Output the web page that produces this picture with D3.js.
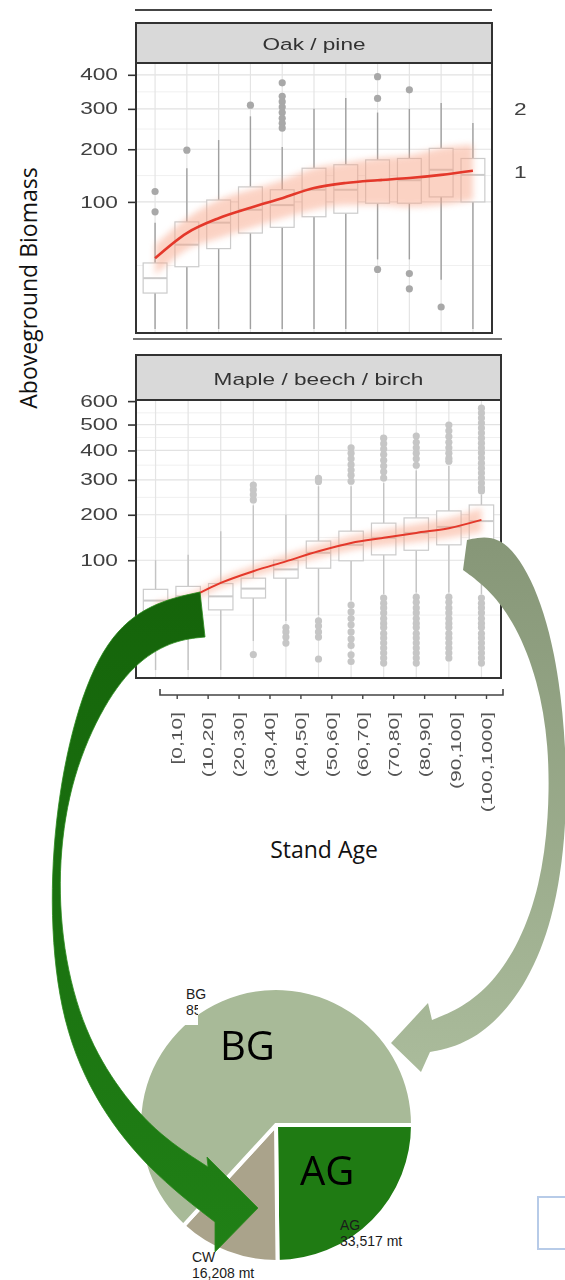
<!DOCTYPE html>
<html>
<head>
<meta charset="utf-8">
<script src="https://cdn.jsdelivr.net/npm/d3@7"></script>
<style>
  html, body { margin: 0; padding: 0; background: #fff; }
  svg { display: block; }
</style>
</head>
<body>
<div id="chart"></div>
<script>
// ---- data ----
const ageBins = ["[0,10]", "(10,20]", "(20,30]", "(30,40]", "(40,50]", "(50,60]",
  "(60,70]", "(70,80]", "(80,90]", "(90,100]", "(100,1000]"];

// Oak / pine panel (box stats, outliers, fitted curve + band)
const oakLo  = [0, 0, 0, 0, 0, 0, 0, 30, 30, 15, 0];
const oakQ1  = [8, 24, 40, 57, 64, 78, 83, 98, 98, 108, 100];
const oakMed = [16, 44, 70, 88, 95, 120, 120, 137, 137, 157, 147];
const oakQ3  = [27, 71, 103, 125, 120, 160, 167, 177, 180, 202, 180];
const oakHi  = [70, 160, 221, 280, 205, 300, 330, 290, 300, 316, 263];
const oakOut = [[117, 85], [198], [], [310], [375, 335, 320, 305, 290, 275, 262, 250],
  [], [], [394, 329, 22], [354, 19, 10], [3], []];
const oakFit   = [31, 57, 76, 91, 106, 123, 132, 137, 141, 147, 155];
const oakFitLo = [18, 39, 51, 63, 76, 88, 95, 95, 92, 95, 103];
const oakFitHi = [44, 76, 103, 120, 137, 160, 171, 181, 187, 203, 210];
const oakTicks = [100, 200, 300, 400];

// Maple / beech / birch panel
const mapLo  = [0, 0, 0, 7, 20, 25, 40, 48, 50, 50, 48];
const mapQ1  = [25, 30, 30, 43, 70, 86, 99, 110, 119, 130, 138];
const mapMed = [40, 45, 45, 55, 84, 114, 130, 145, 156, 170, 184];
const mapQ3  = [54, 58, 62, 70, 100, 138, 160, 179, 192, 210, 226];
const mapHi  = [100, 110, 160, 225, 200, 280, 280, 290, 330, 345, 255];
const mapOut = [
  [], [], [],
  [284, 270, 255, 240, 2],
  [15, 12, 9, 6],
  [305, 295, 20, 16, 12, 9, 1],
  [410, 390, 370, 350, 332, 315, 296, 35, 28, 22, 17, 12, 8, 5, 1.9, 0.6],
  [446, 425, 405, 385, 365, 345, 326, 306, 43, 37, 32, 27, 22, 18, 15, 11, 8.5, 6, 4, 2.4, 1.2, 0.4],
  [454, 430, 410, 390, 370, 348, 44, 38, 32, 27, 22, 18, 15, 11, 8.5, 6, 4, 2.4, 1.2, 0.4],
  [498, 475, 452, 430, 410, 390, 372, 362, 44, 38, 32, 27, 22, 18, 15, 11, 8.5, 6, 4, 2.4, 1.2],
  [569, 548, 527, 506, 486, 466, 446, 427, 409, 391, 373, 355, 338, 322, 306, 290, 275, 266,
   43, 37, 32, 27, 22, 18, 15, 11, 8.5, 6, 4, 2.4, 1.2, 0.4]
];
const mapFit   = [34, 43, 63, 81, 98, 117, 134, 145, 156, 167, 187];
const mapFitLo = [30, 38, 56, 72, 88, 104, 119, 128, 136, 145, 158];
const mapFitHi = [38, 48, 70, 90, 110, 130, 149, 163, 177, 192, 218];
const mapTicks = [100, 200, 300, 400, 500, 600];

// carbon pools pie
const poolNames = ["AG", "CW", "BG"];
const poolMt = [33517, 16208, 85310];

// ---- setup ----
const W = 565, H = 1280;
const chartFont = "'Liberation Sans', Arial, sans-serif";
const slideFont = "'Open Sans', 'Noto Sans', sans-serif";

const svg = d3.select("#chart").append("svg")
  .attr("width", W).attr("height", H)
  .style("font-family", chartFont);

const defs = svg.append("defs");
defs.append("filter").attr("id", "ribbonBlur")
  .attr("x", "-10%").attr("y", "-60%").attr("width", "120%").attr("height", "220%")
  .append("feGaussianBlur").attr("stdDeviation", 3);
defs.append("filter").attr("id", "soft")
  .append("feGaussianBlur").attr("stdDeviation", 0.5);

const chart = svg.append("g").attr("filter", "url(#soft)");

function drawPanel(g, p, d) {
  const x = d3.scalePoint().domain(ageBins).range([p.left, p.right]).padding(0.6);
  const y = d3.scaleSqrt().domain([0, p.yMax]).range([p.yZero, p.plotTop]);
  const bw = x.step() * 0.75;

  g.append("rect")
    .attr("x", p.left).attr("y", p.plotTop)
    .attr("width", p.right - p.left).attr("height", p.plotBottom - p.plotTop)
    .attr("fill", "#fff");

  // minor grid: midpoints in sqrt space
  const minors = d.ticks.map((t, i) => {
    const a = Math.sqrt(i === 0 ? 0 : d.ticks[i - 1]), b = Math.sqrt(t);
    return Math.pow((a + b) / 2, 2);
  });
  g.selectAll(".minor").data(minors).enter().append("line")
    .attr("x1", p.left).attr("x2", p.right)
    .attr("y1", v => y(v)).attr("y2", v => y(v))
    .attr("stroke", "#f0f0f0").attr("stroke-width", 1);
  g.selectAll(".major").data(d.ticks.filter(t => y(t) > p.plotTop + 2)).enter().append("line")
    .attr("x1", p.left).attr("x2", p.right)
    .attr("y1", v => y(v)).attr("y2", v => y(v))
    .attr("stroke", "#e2e2e2").attr("stroke-width", 1.2);
  g.selectAll(".vgrid").data(ageBins).enter().append("line")
    .attr("x1", b => x(b)).attr("x2", b => x(b))
    .attr("y1", p.plotTop).attr("y2", p.plotBottom)
    .attr("stroke", "#e4e4e4").attr("stroke-width", 1.2);

  const rows = ageBins.map((b, i) => ({
    bin: b, lo: d.lo[i], q1: d.q1[i], med: d.med[i], q3: d.q3[i], hi: d.hi[i], out: d.out[i]
  }));

  // whiskers
  g.selectAll(".wLo").data(rows).enter().append("line")
    .attr("x1", r => x(r.bin)).attr("x2", r => x(r.bin))
    .attr("y1", r => y(r.lo)).attr("y2", r => y(r.q1))
    .attr("stroke", p.whisker).attr("stroke-width", 1.4);
  g.selectAll(".wHi").data(rows).enter().append("line")
    .attr("x1", r => x(r.bin)).attr("x2", r => x(r.bin))
    .attr("y1", r => y(r.hi)).attr("y2", r => y(r.q3))
    .attr("stroke", p.whisker).attr("stroke-width", 1.4);

  // boxes
  g.selectAll(".box").data(rows).enter().append("rect")
    .attr("x", r => x(r.bin) - bw / 2).attr("width", bw)
    .attr("y", r => y(r.q3)).attr("height", r => y(r.q1) - y(r.q3))
    .attr("fill", "#fff").attr("stroke", "#cbcbcb").attr("stroke-width", 1.2);
  g.selectAll(".med").data(rows).enter().append("line")
    .attr("x1", r => x(r.bin) - bw / 2).attr("x2", r => x(r.bin) + bw / 2)
    .attr("y1", r => y(r.med)).attr("y2", r => y(r.med))
    .attr("stroke", "#cbcbcb").attr("stroke-width", 2);

  // outliers
  const pts = rows.flatMap(r => r.out.map(v => ({ bin: r.bin, v })));
  g.selectAll(".out").data(pts).enter().append("circle")
    .attr("cx", o => x(o.bin)).attr("cy", o => y(o.v))
    .attr("r", 3.6).attr("fill", p.outFill);

  // fitted curve with confidence band
  const fitRows = ageBins.map((b, i) => ({ bin: b, f: d.fit[i], lo: d.fitLo[i], hi: d.fitHi[i] }));
  g.append("path").datum(fitRows)
    .attr("d", d3.area().x(r => x(r.bin)).y0(r => y(r.lo)).y1(r => y(r.hi)).curve(d3.curveMonotoneX))
    .attr("fill", "#f8a689").attr("opacity", p.bandOpacity)
    .attr("filter", "url(#ribbonBlur)");
  g.append("path").datum(fitRows)
    .attr("d", d3.line().x(r => x(r.bin)).y(r => y(r.f)).curve(d3.curveMonotoneX))
    .attr("fill", "none").attr("stroke", "#e4372b").attr("stroke-width", p.lineW);

  // strip + frame
  g.append("rect")
    .attr("x", p.left).attr("y", p.stripTop)
    .attr("width", p.right - p.left).attr("height", p.plotTop - p.stripTop)
    .attr("fill", "#d9d9d9");
  g.append("text")
    .attr("transform", `translate(${(p.left + p.right) / 2},${(p.stripTop + p.plotTop) / 2 + 1}) scale(1.33,1)`)
    .attr("text-anchor", "middle").attr("dy", "0.36em")
    .attr("font-size", 17).attr("fill", "#333")
    .text(p.title);
  g.append("line")
    .attr("x1", p.left).attr("x2", p.right).attr("y1", p.plotTop).attr("y2", p.plotTop)
    .attr("stroke", "#333").attr("stroke-width", 2);
  g.append("rect")
    .attr("x", p.left).attr("y", p.stripTop)
    .attr("width", p.right - p.left).attr("height", p.plotBottom - p.stripTop)
    .attr("fill", "none").attr("stroke", "#333").attr("stroke-width", 2);

  // y axis
  const ax = g.append("g").attr("transform", `translate(${p.left},0)`)
    .call(d3.axisLeft(y).tickValues(d.ticks).tickSize(8).tickFormat(d3.format("d")));
  ax.select(".domain").remove();
  ax.selectAll(".tick line").attr("stroke", "#333").attr("stroke-width", 1.6);
  ax.selectAll(".tick text")
    .attr("x", 0).attr("transform", "translate(-18,0) scale(1.42,1)")
    .attr("font-size", 16).attr("font-family", chartFont).attr("fill", "#3f3f3f");

  return { x, y };
}

// line above the first panel (edge of a cropped panel)
chart.append("line").attr("x1", 135).attr("x2", 492).attr("y1", 10).attr("y2", 10)
  .attr("stroke", "#444").attr("stroke-width", 2);

drawPanel(chart.append("g"),
  { title: "Oak / pine", left: 136, right: 492, stripTop: 23, plotTop: 63, plotBottom: 333,
    yZero: 329, yMax: 438, lineW: 2.6, outFill: "#a8a8a8", whisker: "#a0a0a0", bandOpacity: 0.5 },
  { lo: oakLo, q1: oakQ1, med: oakMed, q3: oakQ3, hi: oakHi, out: oakOut,
    fit: oakFit, fitLo: oakFitLo, fitHi: oakFitHi, ticks: oakTicks });

// axis line under the first panel
chart.append("line").attr("x1", 133).attr("x2", 502).attr("y1", 339).attr("y2", 339)
  .attr("stroke", "#444").attr("stroke-width", 1.6);

drawPanel(chart.append("g"),
  { title: "Maple / beech / birch", left: 136, right: 501, stripTop: 355, plotTop: 400, plotBottom: 678,
    yZero: 670, yMax: 605, lineW: 2, outFill: "#c6c6c6", whisker: "#c4c4c4", bandOpacity: 0.5 },
  { lo: mapLo, q1: mapQ1, med: mapMed, q3: mapQ3, hi: mapHi, out: mapOut,
    fit: mapFit, fitLo: mapFitLo, fitHi: mapFitHi, ticks: mapTicks });

// clipped tick labels of a neighbouring panel at the right edge
const ghostClip = defs.append("clipPath").attr("id", "ghostClip");
ghostClip.append("rect").attr("x", 505).attr("y", 0).attr("width", 21).attr("height", 340);
const ghost = chart.append("g").attr("clip-path", "url(#ghostClip)");
ghost.selectAll("text").data(["200", "100"]).enter().append("text")
  .attr("transform", (t, i) => `translate(514,${[115, 178][i]}) scale(1.42,1)`)
  .attr("font-size", 16).attr("fill", "#3f3f3f").text(t => t);

// stand age axis (shifted under the lower panel)
const xAge = d3.scalePoint().domain(ageBins).range([176.7, 486]);
const xAxisY = 695;
const xa = chart.append("g").attr("transform", `translate(0,${xAxisY})`)
  .call(d3.axisBottom(xAge).tickSize(4).tickSizeOuter(0));
xa.select(".domain").remove();
xa.selectAll(".tick line").attr("stroke", "#444").attr("stroke-width", 1.4);
xa.selectAll(".tick text")
  .attr("x", null).attr("y", null).attr("dy", "0.35em")
  .attr("transform", "translate(0,17) rotate(-90) scale(1.4,1)")
  .attr("text-anchor", "end")
  .attr("font-size", 15).attr("font-family", chartFont).attr("fill", "#555");
chart.append("path")
  .attr("d", `M160,${xAxisY - 6}V${xAxisY}H503V${xAxisY - 6}`)
  .attr("fill", "none").attr("stroke", "#444").attr("stroke-width", 1.6);

// axis titles
svg.append("text")
  .attr("transform", "translate(37,288) rotate(-90)")
  .attr("text-anchor", "middle")
  .attr("font-family", slideFont).attr("font-size", 23).attr("fill", "#111")
  .text("Aboveground Biomass");
svg.append("text")
  .attr("x", 324).attr("y", 858)
  .attr("text-anchor", "middle")
  .attr("font-family", slideFont).attr("font-size", 23).attr("fill", "#111")
  .text("Stand Age");

// ---- pie of carbon pools ----
const pieCx = 276, pieCy = 1125, pieR = 137;
const poolColor = d3.scaleOrdinal().domain(poolNames).range(["#1f7b13", "#aaa38b", "#a8ba98"]);
const pools = poolNames.map((n, i) => ({ name: n, mt: poolMt[i] }));
const arcs = d3.pie().sort(null).value(p => p.mt)
  .startAngle(Math.PI / 2).endAngle(Math.PI / 2 + 2 * Math.PI)(pools);
const pie = svg.append("g").attr("transform", `translate(${pieCx},${pieCy})`);
pie.selectAll("path").data(arcs).enter().append("path")
  .attr("d", d3.arc().innerRadius(0).outerRadius(pieR))
  .attr("fill", a => poolColor(a.data.name))
  .attr("stroke", "#fff").attr("stroke-width", 4).attr("stroke-linejoin", "miter");

// ---- curved arrows (annotation shapes) ----
function arrowPath(outer, head, inner) {
  const edge = d3.line().curve(d3.curveBasis);
  return edge(outer) + "L" + head.map(p => p.join(",")).join("L") + edge(inner).replace(/^M/, "L") + "Z";
}
const gDark = defs.append("linearGradient").attr("id", "gDark")
  .attr("gradientUnits", "userSpaceOnUse").attr("x1", 0).attr("y1", 590).attr("x2", 0).attr("y2", 1250);
gDark.append("stop").attr("offset", 0).attr("stop-color", "#15640a");
gDark.append("stop").attr("offset", 1).attr("stop-color", "#208016");
const gLight = defs.append("linearGradient").attr("id", "gLight")
  .attr("gradientUnits", "userSpaceOnUse").attr("x1", 0).attr("y1", 530).attr("x2", 0).attr("y2", 1070);
gLight.append("stop").attr("offset", 0).attr("stop-color", "#869677");
gLight.append("stop").attr("offset", 1).attr("stop-color", "#aabb9b");

svg.append("path")
  .attr("d", arrowPath(
    [[200, 592], [150, 603], [106, 638], [74, 715], [54, 820], [50, 930], [64, 1035],
     [105, 1118], [158, 1178], [215, 1222]],
    [[215, 1252], [258, 1208], [207, 1157]],
    [[208, 1167], [160, 1136], [120, 1092], [84, 1032], [62, 950], [58, 860], [72, 775],
     [104, 703], [138, 660], [175, 640], [205, 637]]))
  .attr("fill", "url(#gDark)").attr("stroke", "#2a8a1c").attr("stroke-width", 0.8);

svg.append("path")
  .attr("d", arrowPath(
    [[467, 540], [500, 533], [532, 575], [556, 650], [567, 750], [566, 840], [553, 920],
     [528, 982], [494, 1025], [460, 1046], [430, 1052]],
    [[421, 1072], [391, 1043], [428, 1003]],
    [[432, 1020], [462, 1008], [493, 983], [520, 942], [540, 886], [549, 818], [549, 745],
     [538, 680], [516, 625], [490, 590], [463, 570]]))
  .attr("fill", "url(#gLight)");

// ---- pie labels ----
const fmt = d3.format(",");
const labelPos = { AG: [64, 105], CW: [-84, 137], BG: [-90, -126] };
const bgClip = defs.append("clipPath").attr("id", "bgClip");
bgClip.append("rect").attr("x", pieCx - 94).attr("y", pieCy - 124).attr("width", 16).attr("height", 24);
pie.append("rect").attr("x", -94).attr("y", -124).attr("width", 16).attr("height", 24).attr("fill", "#fff");

arcs.forEach(a => {
  const [dx, dy] = labelPos[a.data.name];
  const t = pie.append("g");
  t.append("text").attr("x", dx).attr("y", dy)
    .attr("font-size", 14).attr("fill", "#1b1b1b").text(a.data.name);
  const v = t.append("text").attr("x", dx).attr("y", dy + 16)
    .attr("font-size", 14).attr("fill", "#1b1b1b").text(fmt(a.data.mt) + " mt");
  if (a.data.name === "BG") v.attr("clip-path", "url(#bgClip)")
    .attr("transform", `translate(${-pieCx},${-pieCy})`)
    .attr("x", pieCx + dx).attr("y", pieCy + dy + 16);
});

// big slide captions
svg.append("text").attr("x", 220).attr("y", 1060)
  .attr("font-family", slideFont).attr("font-size", 40).attr("fill", "#000").text("BG");
svg.append("text").attr("x", 300).attr("y", 1185)
  .attr("font-family", slideFont).attr("font-size", 40).attr("fill", "#000").text("AG");

// stray box at the right edge
svg.append("rect").attr("x", 538).attr("y", 1197).attr("width", 40).attr("height", 52)
  .attr("fill", "none").attr("stroke", "#b7cbe8").attr("stroke-width", 2);
</script>
</body>
</html>
